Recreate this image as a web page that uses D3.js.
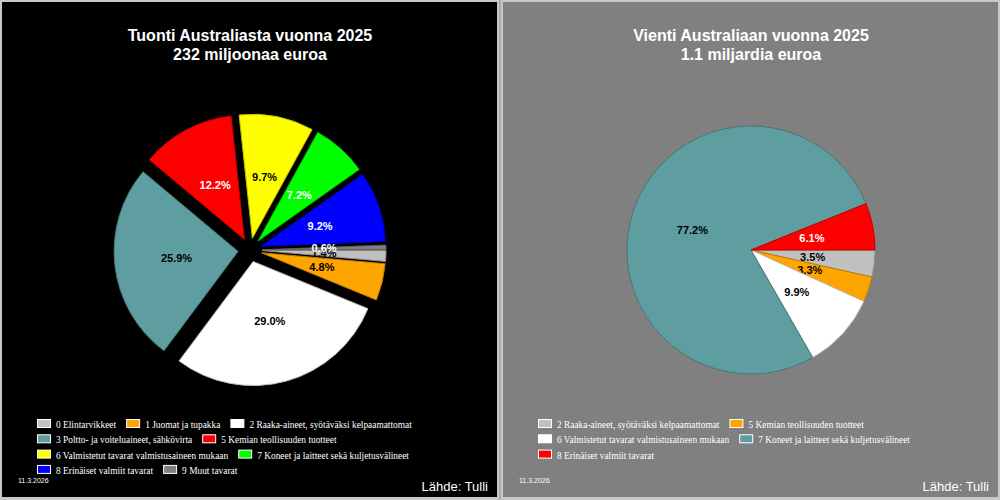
<!DOCTYPE html>
<html>
<head>
<meta charset="utf-8">
<script src="https://cdn.jsdelivr.net/npm/d3@7"></script>
<style>
  body { margin: 0; background: #c8c8c8; }
  svg { display: block; }
</style>
</head>
<body>
<div id="chart"></div>
<script>
// data
const importTitle = ["Tuonti Australiasta vuonna 2025", "232 miljoonaa euroa"];
const importCategories = [
  "0 Elintarvikkeet",
  "1 Juomat ja tupakka",
  "2 Raaka-aineet, syötäväksi kelpaamattomat",
  "3 Poltto- ja voiteluaineet, sähkövirta",
  "5 Kemian teollisuuden tuotteet",
  "6 Valmistetut tavarat valmistusaineen mukaan",
  "7 Koneet ja laitteet sekä kuljetusvälineet",
  "8 Erinäiset valmiit tavarat",
  "9 Muut tavarat"
];
const importValues = [1.4, 4.8, 29.0, 25.9, 12.2, 9.7, 7.2, 9.2, 0.6];

const exportTitle = ["Vienti Australiaan vuonna 2025", "1.1 miljardia euroa"];
const exportCategories = [
  "2 Raaka-aineet, syötäväksi kelpaamattomat",
  "5 Kemian teollisuuden tuotteet",
  "6 Valmistetut tavarat valmistusaineen mukaan",
  "7 Koneet ja laitteet sekä kuljetusvälineet",
  "8 Erinäiset valmiit tavarat"
];
const exportValues = [3.5, 3.3, 9.9, 77.2, 6.1];

const dateText = "11.3.2026";
const sourceText = "Lähde: Tulli";

// slice colours, in drawing order
const colorCycle = ["#c0c0c0", "#ffa500", "#ffffff", "#5f9ea0", "#ff0000", "#ffff00", "#00ff00", "#0000ff", "#808080"];

const W = 1000, H = 500;
const radius = 124;

const svg = d3.select("#chart").append("svg")
  .attr("width", W)
  .attr("height", H);

// frame
svg.append("rect").attr("width", W).attr("height", H).attr("fill", "#c8c8c8");
svg.append("line").attr("x1", 500).attr("x2", 500).attr("y1", 0).attr("y2", H)
  .attr("stroke", "#8c8c8c");

const textColorFor = c => {
  const rgb = d3.rgb(c);
  return (rgb.r + rgb.g + rgb.b) < 400 ? "#fff" : "#000";
};

const drawPanel = (opts) => {
  const g = svg.append("g").attr("transform", `translate(${opts.x0},0)`);

  g.append("rect")
    .attr("x", 2).attr("y", 2)
    .attr("width", 495).attr("height", 495)
    .attr("fill", opts.bg);

  // title
  g.append("text")
    .attr("x", 250)
    .attr("text-anchor", "middle")
    .style("font-family", "Arial, 'Liberation Sans', sans-serif")
    .style("font-weight", "bold")
    .style("font-size", "16px")
    .attr("fill", "#fff")
    .selectAll("tspan")
    .data(opts.title)
    .enter()
    .append("tspan")
      .attr("x", 250)
      .attr("y", (d, i) => 41 + i * 19)
      .text(d => d);

  // pie
  const pie = d3.pie()
    .sort(null)
    .startAngle(Math.PI / 2)
    .endAngle(Math.PI / 2 + 2 * Math.PI);

  const arcs = pie(opts.values);
  const arc = d3.arc().innerRadius(0).outerRadius(radius);
  const labelArc = d3.arc().innerRadius(radius / 2).outerRadius(radius / 2);

  const shift = d => {
    const mid = (d.startAngle + d.endAngle) / 2;
    return [Math.sin(mid) * opts.explode, -Math.cos(mid) * opts.explode];
  };

  const pieG = g.append("g").attr("transform", `translate(250,250)`);

  const slices = pieG.selectAll("g.slice")
    .data(arcs)
    .enter()
    .append("g")
    .attr("class", "slice")
    .attr("transform", d => `translate(${shift(d)})`);

  slices.append("path")
    .attr("d", arc)
    .attr("fill", (d, i) => colorCycle[i])
    .attr("stroke", (d, i) => d3.color(colorCycle[i]).darker(0.8))
    .attr("stroke-width", 1);

  slices.append("text")
    .attr("transform", d => `translate(${labelArc.centroid(d)})`)
    .attr("text-anchor", "middle")
    .attr("dy", "0.35em")
    .style("font-family", "Arial, 'Liberation Sans', sans-serif")
    .style("font-weight", "bold")
    .style("font-size", "11px")
    .attr("fill", (d, i) => textColorFor(colorCycle[i]))
    .text(d => d.value.toFixed(1) + "%");

  // legend, flowing left to right
  const legend = g.append("g");
  const left = 37, maxRight = 460, rowH = 15.3, top = 419;
  let cx = left, row = 0;
  opts.categories.forEach((name, i) => {
    const item = legend.append("g");
    const t = item.append("text")
      .attr("x", 19)
      .attr("y", 9)
      .style("font-family", "'Times New Roman', 'Liberation Serif', serif")
      .style("font-size", "9.4px")
      .attr("fill", "#fff")
      .text(name);
    const w = 19 + t.node().getComputedTextLength();
    if (cx > left && cx + w > maxRight) {
      cx = left;
      row += 1;
    }
    item.attr("transform", `translate(${cx},${top + row * rowH})`);
    item.append("rect")
      .attr("x", 0.5).attr("y", 0.5)
      .attr("width", 13).attr("height", 8)
      .attr("fill", colorCycle[i])
      .attr("stroke", "#fff");
    cx += w + 10;
  });

  // footer
  g.append("text")
    .attr("x", 18)
    .attr("y", 483)
    .style("font-family", "Arial, 'Liberation Sans', sans-serif")
    .style("font-size", "7px")
    .attr("fill", "#fff")
    .text(dateText);

  g.append("text")
    .attr("x", 488)
    .attr("y", 491)
    .attr("text-anchor", "end")
    .style("font-family", "Arial, 'Liberation Sans', sans-serif")
    .style("font-size", "13px")
    .attr("fill", "#fff")
    .text(sourceText);
};

drawPanel({
  x0: 0, bg: "#000", title: importTitle,
  categories: importCategories, values: importValues, explode: 12
});

drawPanel({
  x0: 501, bg: "#808080", title: exportTitle,
  categories: exportCategories, values: exportValues, explode: 0
});
</script>
</body>
</html>
